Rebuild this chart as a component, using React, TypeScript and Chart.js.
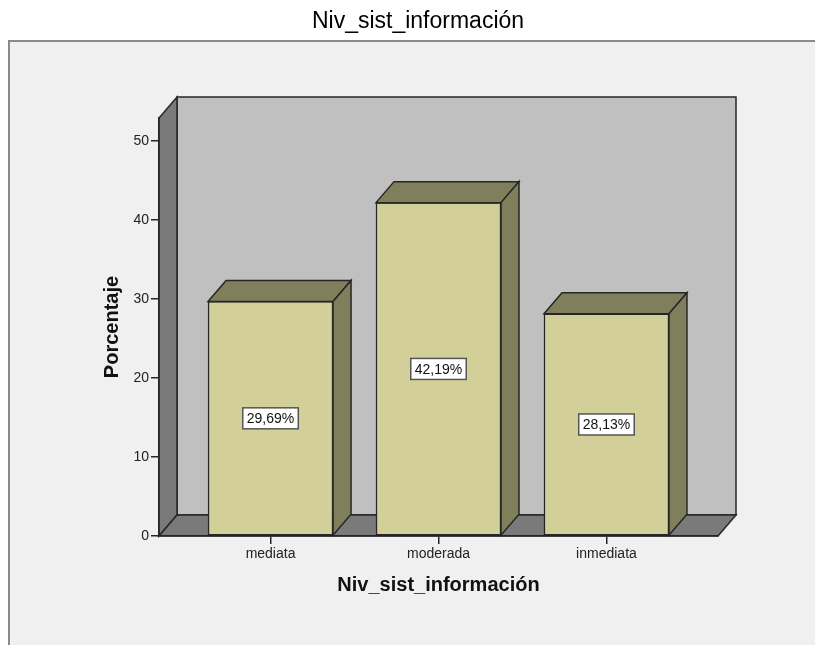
import React, { useEffect, useRef } from "react";
import { Chart, registerables } from "chart.js";

Chart.register(...registerables);

const categories = ["mediata", "moderada", "inmediata"];
const percentages = [29.69, 42.19, 28.13];
const valueLabels = ["29,69%", "42,19%", "28,13%"];
const yTicks = [0, 10, 20, 30, 40, 50];
const chartTitle = "Niv_sist_información";
const xTitle = "Niv_sist_información";
const yTitle = "Porcentaje";

const FONT = "'Liberation Sans', Arial, Helvetica, sans-serif";
const DX = 18;
const DY = -21;
const OUTLINE = "#262626";

function poly(ctx: CanvasRenderingContext2D, pts: number[][], fill: string) {
  ctx.beginPath();
  ctx.moveTo(pts[0][0], pts[0][1]);
  for (let i = 1; i < pts.length; i++) ctx.lineTo(pts[i][0], pts[i][1]);
  ctx.closePath();
  ctx.fillStyle = fill;
  ctx.fill();
  ctx.stroke();
}

const scenePlugin = {
  id: "scene3d",
  beforeDraw(chart: any) {
    const { ctx, chartArea: a, width, height } = chart;
    ctx.save();
    ctx.fillStyle = "#ffffff";
    ctx.fillRect(0, 0, width, height);
    ctx.fillStyle = "#f0f0f0";
    ctx.fillRect(8, 40, width - 8, height - 40);
    ctx.strokeStyle = "#8a8a8a";
    ctx.lineWidth = 2;
    ctx.beginPath();
    ctx.moveTo(9, height);
    ctx.lineTo(9, 41);
    ctx.lineTo(width, 41);
    ctx.stroke();

    ctx.fillStyle = "#000000";
    ctx.font = `23px ${FONT}`;
    ctx.textAlign = "center";
    ctx.textBaseline = "middle";
    ctx.fillText(chartTitle, 418, 22);

    const L = a.left, R = a.right, T = a.top, B = a.bottom;
    ctx.lineWidth = 1.5;
    ctx.strokeStyle = OUTLINE;
    ctx.lineJoin = "miter";
    poly(ctx, [[L + DX, T + DY], [R + DX, T + DY], [R + DX, B + DY], [L + DX, B + DY]], "#c0c0c0");
    poly(ctx, [[L, T], [L + DX, T + DY], [L + DX, B + DY], [L, B]], "#7a7a7a");
    poly(ctx, [[L, B], [L + DX, B + DY], [R + DX, B + DY], [R, B]], "#7a7a7a");
    ctx.restore();
  },
  afterDatasetsDraw(chart: any) {
    const { ctx } = chart;
    const meta = chart.getDatasetMeta(0);
    ctx.save();
    ctx.lineWidth = 1.5;
    ctx.strokeStyle = OUTLINE;
    meta.data.forEach((bar: any, i: number) => {
      const { x, y, base, width } = bar.getProps(["x", "y", "base", "width"], true);
      const l = x - width / 2;
      const r = x + width / 2;
      ctx.strokeStyle = OUTLINE;
      ctx.lineWidth = 1.5;
      poly(ctx, [[l, y], [l + DX, y + DY], [r + DX, y + DY], [r, y]], "#807f5b");
      poly(ctx, [[r, y], [r + DX, y + DY], [r + DX, base + DY], [r, base]], "#807f5b");
      ctx.font = `14px ${FONT}`;
      const text = valueLabels[i];
      const tw = ctx.measureText(text).width;
      const bw = tw + 8;
      const bh = 21;
      const cy = (y + base) / 2;
      ctx.fillStyle = "#ffffff";
      ctx.strokeStyle = "#555555";
      ctx.fillRect(x - bw / 2, cy - bh / 2, bw, bh);
      ctx.strokeRect(x - bw / 2, cy - bh / 2, bw, bh);
      ctx.fillStyle = "#111111";
      ctx.textAlign = "center";
      ctx.textBaseline = "middle";
      ctx.fillText(text, x, cy + 1);
    });
    ctx.restore();
  },
};

export default function App() {
  const ref = useRef<HTMLCanvasElement>(null);
  useEffect(() => {
    const chart = new Chart(ref.current as HTMLCanvasElement, {
      type: "bar",
      data: {
        datasets: [
          {
            data: percentages.map((v, i) => ({ x: i, y: v })),
            backgroundColor: "#d3cf98",
            borderColor: OUTLINE,
            borderWidth: 1.5,
            borderSkipped: false,
            barThickness: 125,
          },
        ],
      },
      options: {
        animation: false,
        responsive: false,
        devicePixelRatio: 1,
        layout: { padding: { top: 118, right: 97, bottom: 0, left: 0 } },
        plugins: { legend: { display: false }, tooltip: { enabled: false }, title: { display: false } },
        scales: {
          x: {
            type: "linear",
            offset: false,
            min: -0.664,
            max: 2.664,
            afterBuildTicks: (s: any) => {
              s.ticks = categories.map((_, i) => ({ value: i }));
            },
            afterFit: (s: any) => {
              s.height = 109;
            },
            grid: { offset: false, drawOnChartArea: false, drawTicks: true, tickLength: 8, color: OUTLINE, lineWidth: 1.5 },
            border: { display: true, color: OUTLINE, width: 1.5 },
            ticks: {
              autoSkip: false,
              maxRotation: 0,
              padding: 2,
              color: "#222222",
              font: { size: 14, family: FONT },
              callback: (v: any) => categories[v as number] ?? "",
            },
            title: {
              display: true,
              text: xTitle,
              color: "#111111",
              font: { size: 20, weight: "bold", family: FONT },
              padding: { top: 0, bottom: 48 },
            },
          },
          y: {
            min: 0,
            max: 52.9,
            afterBuildTicks: (s: any) => {
              s.ticks = yTicks.map((v) => ({ value: v }));
            },
            afterFit: (s: any) => {
              s.width = 159;
            },
            grid: { drawOnChartArea: false, drawTicks: true, tickLength: 8, color: OUTLINE, lineWidth: 1.5 },
            border: { display: true, color: OUTLINE, width: 1.5 },
            ticks: { padding: 2, color: "#222222", font: { size: 14, family: FONT } },
            title: {
              display: true,
              text: yTitle,
              color: "#111111",
              font: { size: 20, weight: "bold", family: FONT },
              padding: { top: 100, bottom: 0 },
            },
          },
        },
      } as any,
      plugins: [scenePlugin],
    });
    return () => chart.destroy();
  }, []);
  return (
    <div style={{ position: "fixed", left: 0, top: 0, width: 815, height: 645, background: "#ffffff" }}>
      <canvas ref={ref} width={815} height={645} style={{ display: "block", width: 815, height: 645 }} />
    </div>
  );
}
